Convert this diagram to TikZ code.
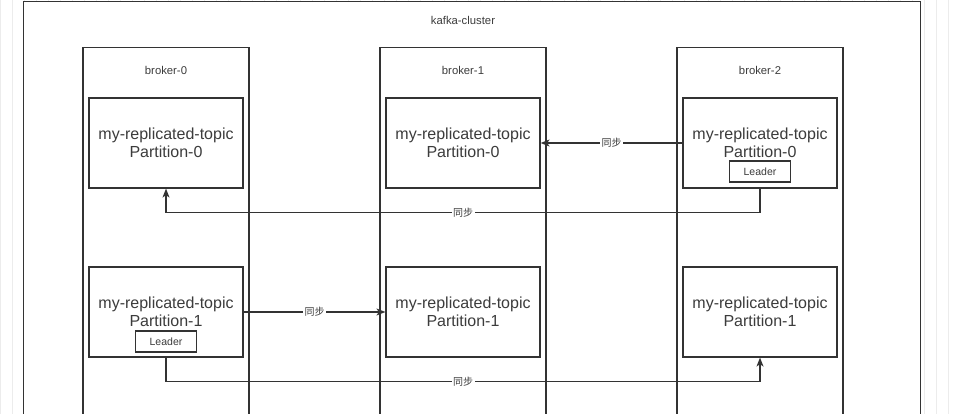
\documentclass[tikz,border=0pt]{standalone}
\usepackage{fontspec}
\setmainfont{Liberation Sans}
\newfontfamily\cjk{Noto Sans CJK SC}
\usepackage{tikz}
\usetikzlibrary{arrows.meta,positioning}
\usepackage{xcolor}
\definecolor{kline}{RGB}{51,51,51}
\definecolor{ktext}{RGB}{60,60,60}
\definecolor{kgrid}{RGB}{236,236,236}
\tikzstyle{arrow} = [line width=1.1pt,-{Stealth[length=9pt,width=7pt,inset=2.5pt]},color=kline]

\begin{document}
\begin{tikzpicture}[
    x=1pt, y=-1pt,
    every node/.style={text=ktext},
    cluster/.style={rectangle, draw=kline, line width=1.2pt, fill=white, anchor=north west, minimum width=897, minimum height=460},
    broker/.style={rectangle, draw=kline, line width=1.2pt, anchor=north, minimum width=166, minimum height=420},
    title/.style={font=\fontsize{11.3}{13}\selectfont, inner sep=1pt},
    part/.style={rectangle, draw=kline, line width=1.2pt, fill=white, minimum width=154, minimum height=90, align=center, font=\fontsize{16}{18}\selectfont},
    leader/.style={rectangle, draw=kline, line width=1.2pt, minimum width=61, minimum height=21, inner sep=0pt, font=\fontsize{10.5}{12}\selectfont},
    sync/.style={fill=white, inner sep=1.5pt, font=\cjk\fontsize{10}{12}\selectfont}
]
\useasboundingbox (0,0) rectangle (956,414);
\clip (0,0) rectangle (956,414);

% Background grid
\draw[kgrid, step=12] (0,0) grid (956,414);

% Cluster
\node[cluster] (cluster) at (23,1) {};
\node[title] (clustertitle) at (463,20) {kafka-cluster};

% Brokers
\node[broker] (broker0) at (166,47) {};
\node[broker] (broker1) at (463,47) {};
\node[broker] (broker2) at (760,47) {};
\node[title] (b0title) at (166,70) {broker-0};
\node[title] (b1title) at (463,70) {broker-1};
\node[title] (b2title) at (760,70) {broker-2};

% Partition-0 replicas
\node[part] (p0a) at (166,143) {my-replicated-topic\\Partition-0};
\node[part] (p1a) at (463,143) {my-replicated-topic\\Partition-0};
\node[part] (p2a) at (760,143) {my-replicated-topic\\Partition-0};
\node[leader] (lead2a) at (760,171.5) {Leader};

% Partition-1 replicas
\node[part] (p0b) at (166,312) {my-replicated-topic\\Partition-1};
\node[part] (p1b) at (463,312) {my-replicated-topic\\Partition-1};
\node[part] (p2b) at (760,312) {my-replicated-topic\\Partition-1};
\node[leader] (lead0b) at (166,341.5) {Leader};

% Arrows
\draw[arrow] (p2a.west) -- node[sync] {同步} (p1a.east);
\draw[arrow] (p2a.south) -- ++(0,24) -| node[sync, pos=0.25] {同步} (p0a.south);
\draw[arrow] (p0b.east) -- node[sync] {同步} (p1b.west);
\draw[arrow] (p0b.south) -- ++(0,24) -| node[sync, pos=0.25] {同步} (p2b.south);

\end{tikzpicture}
\end{document}
